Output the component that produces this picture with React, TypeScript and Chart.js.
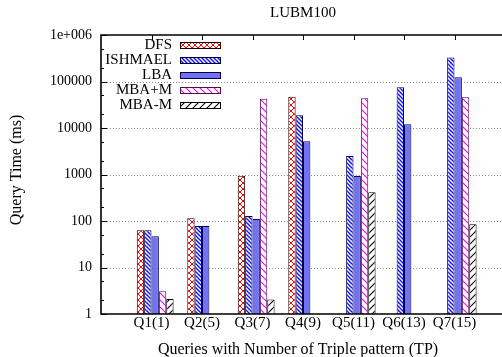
import React, { useEffect, useRef } from 'react';
import { Chart, registerables } from 'chart.js';

Chart.register(...registerables);

const TITLE = 'LUBM100';
const X_TITLE = 'Queries with Number of Triple pattern (TP)';
const Y_TITLE = 'Query Time (ms)';

const categories = ['Q1(1)', 'Q2(5)', 'Q3(7)', 'Q4(9)', 'Q5(11)', 'Q6(13)', 'Q7(15)'];
const seriesNames = ['DFS', 'ISHMAEL', 'LBA', 'MBA+M', 'MBA-M'];

const dfs = [63, 114, 940, 47000, null, null, null];
const ishmael = [63, 78, 128, 18700, 2500, 75000, 330000];
const lba = [47, 78, 110, 5200, 930, 12000, 123000];
const mbaPlusM = [3.1, null, 42700, null, 43500, null, 45700];
const mbaMinusM = [2.1, null, 2.05, null, 414, null, 85];

const yTickValues = [1, 10, 100, 1000, 10000, 100000, 1000000];
const yTickLabels = ['1', '10', '100', '1000', '10000', '100000', '1e+006'];
const yMinorMultiples = [2, 5];

const FONT = "'Liberation Serif', 'Times New Roman', serif";
const GROUP_SHIFT = 0.073;

type Tile = (g: CanvasRenderingContext2D, s: number) => void;

function makePattern(ctx: CanvasRenderingContext2D, size: number, draw: Tile) {
  const c = document.createElement('canvas');
  c.width = size;
  c.height = size;
  const g = c.getContext('2d')!;
  g.fillStyle = '#ffffff';
  g.fillRect(0, 0, size, size);
  draw(g, size);
  return ctx.createPattern(c, 'repeat')!;
}

const back = (color: string, w: number): Tile => (g, s) => {
  g.strokeStyle = color;
  g.lineWidth = w;
  g.beginPath();
  g.moveTo(-1, -1); g.lineTo(s + 1, s + 1);
  g.moveTo(-1, s - 1); g.lineTo(1, s + 1);
  g.moveTo(s - 1, -1); g.lineTo(s + 1, 1);
  g.stroke();
};
const fwd = (color: string, w: number): Tile => (g, s) => {
  g.strokeStyle = color;
  g.lineWidth = w;
  g.beginPath();
  g.moveTo(-1, s + 1); g.lineTo(s + 1, -1);
  g.moveTo(-1, 1); g.lineTo(1, -1);
  g.moveTo(s - 1, s + 1); g.lineTo(s + 1, s - 1);
  g.stroke();
};
const cross = (color: string, w: number): Tile => (g, s) => {
  back(color, w)(g, s);
  fwd(color, w)(g, s);
};

export default function App() {
  const ref = useRef<HTMLCanvasElement>(null);

  useEffect(() => {
    document.body.style.margin = '0';
    document.body.style.overflow = 'hidden';
    const canvas = ref.current!;
    const ctx = canvas.getContext('2d')!;

    const fills = [
      makePattern(ctx, 6, cross('#ff0000', 1)),
      makePattern(ctx, 4, back('#1010ff', 1.4)),
      '#7272f4',
      makePattern(ctx, 7, back('#ff00ff', 1.1)),
      makePattern(ctx, 7, fwd('#000000', 1.1)),
    ];
    const borders = ['#200000', '#000030', '#000050', '#4a104a', '#000000'];
    const seriesData = [dfs, ishmael, lba, mbaPlusM, mbaMinusM];

    const datasets = seriesNames.map((name, si) => ({
      label: name,
      data: seriesData[si].map((v, i) => ({ x: i + GROUP_SHIFT, y: v })),
      backgroundColor: fills[si] as any,
      borderColor: borders[si],
      borderWidth: 1,
      borderSkipped: 'bottom' as const,
      categoryPercentage: 0.729,
      barPercentage: 1,
    }));

    const decor = {
      id: 'decor',
      beforeDatasetsDraw(chart: any) {
        const { ctx: c, chartArea: a, scales } = chart;
        const y = scales.y;
        c.save();
        c.strokeStyle = '#8a8a8a';
        c.lineWidth = 1;
        c.setLineDash([1, 2]);
        yTickValues.slice(1, -1).forEach((v) => {
          const py = Math.round(y.getPixelForValue(v)) + 0.5;
          c.beginPath();
          c.moveTo(a.left + 6, py);
          c.lineTo(a.right, py);
          c.stroke();
        });
        c.restore();
      },
      afterDatasetsDraw(chart: any) {
        const { ctx: c, chartArea: a, scales } = chart;
        const x = scales.x;
        const y = scales.y;
        c.save();
        c.strokeStyle = '#000';
        // ticks on left
        c.lineWidth = 1;
        yTickValues.forEach((v, idx) => {
          const py = Math.round(y.getPixelForValue(v)) + 0.5;
          c.beginPath();
          c.moveTo(a.left, py);
          c.lineTo(a.left + 6, py);
          c.stroke();
          if (idx < yTickValues.length - 1) {
            yMinorMultiples.forEach((m) => {
              const pm = Math.round(y.getPixelForValue(v * m)) + 0.5;
              c.beginPath();
              c.moveTo(a.left, pm);
              c.lineTo(a.left + 3, pm);
              c.stroke();
            });
          }
        });
        // top x ticks
        categories.forEach((_, i) => {
          const px = Math.round(x.getPixelForValue(i)) + 0.5;
          c.beginPath();
          c.moveTo(px, a.top);
          c.lineTo(px, a.top + 5);
          c.stroke();
        });
        // frame
        c.lineWidth = 1.6;
        c.beginPath();
        c.moveTo(a.right, a.top);
        c.lineTo(a.left, a.top);
        c.lineTo(a.left, a.bottom);
        c.lineTo(a.right, a.bottom);
        c.stroke();

        // legend
        c.font = `15px ${FONT}`;
        c.textAlign = 'right';
        c.textBaseline = 'middle';
        c.fillStyle = '#000';
        seriesNames.forEach((name, i) => {
          const cy = a.top + 10 + i * 15;
          c.fillText(name, a.left + 71, cy + 0.5);
          const bx = a.left + 79;
          const bw = 40;
          const bh = 6;
          c.fillStyle = fills[i] as any;
          c.fillRect(bx, cy - bh / 2, bw, bh);
          c.strokeStyle = borders[i];
          c.lineWidth = 1;
          c.strokeRect(bx + 0.5, Math.round(cy - bh / 2) + 0.5, bw, bh);
          c.fillStyle = '#000';
        });

        // title
        c.textAlign = 'center';
        c.font = `15px ${FONT}`;
        c.fillText(TITLE, (a.left + a.right) / 2, 13);

        // axis titles
        c.font = `16px ${FONT}`;
        c.fillText(X_TITLE, (a.left + a.right) / 2 - 5, 350);
        c.save();
        c.translate(17, 170);
        c.rotate(-Math.PI / 2);
        c.fillText(Y_TITLE, 0, 0);
        c.restore();
        c.restore();
      },
    };

    const chart = new Chart(canvas, {
      type: 'bar',
      data: { datasets },
      options: {
        responsive: false,
        animation: false,
        devicePixelRatio: 1,
        layout: { padding: { left: 0, right: 5, top: 35, bottom: 0 } },
        plugins: {
          legend: { display: false },
          title: { display: false },
          tooltip: { enabled: false },
        },
        scales: {
          x: {
            type: 'linear',
            min: -1,
            max: 7,
            offset: false,
            grid: { display: false, drawTicks: false },
            border: { display: false },
            afterBuildTicks: (s: any) => {
              s.ticks = [-1, 0, 1, 2, 3, 4, 5, 6, 7].map((v) => ({ value: v }));
            },
            afterFit: (s: any) => {
              s.height = 43;
            },
            ticks: {
              autoSkip: false,
              maxRotation: 0,
              padding: 0,
              color: '#000',
              font: { family: FONT, size: 15 },
              callback: (v: any) => categories[v as number] ?? '',
            },
          },
          y: {
            type: 'logarithmic',
            min: 1,
            max: 1000000,
            grid: { display: false, drawTicks: false },
            border: { display: false },
            afterBuildTicks: (s: any) => {
              s.ticks = yTickValues.map((v) => ({ value: v, major: true }));
            },
            afterFit: (s: any) => {
              s.width = 101;
            },
            ticks: {
              padding: 9,
              color: '#000',
              font: { family: FONT, size: 14 },
              callback: (v: any) => {
                const i = yTickValues.indexOf(v as number);
                return i >= 0 ? yTickLabels[i] : '';
              },
            },
          },
        },
      },
      plugins: [decor],
    });
    return () => chart.destroy();
  }, []);

  return (
    <div style={{ width: 502, height: 357, overflow: 'hidden', background: '#fff' }}>
      <canvas ref={ref} width={510} height={357} style={{ display: 'block' }} />
    </div>
  );
}
